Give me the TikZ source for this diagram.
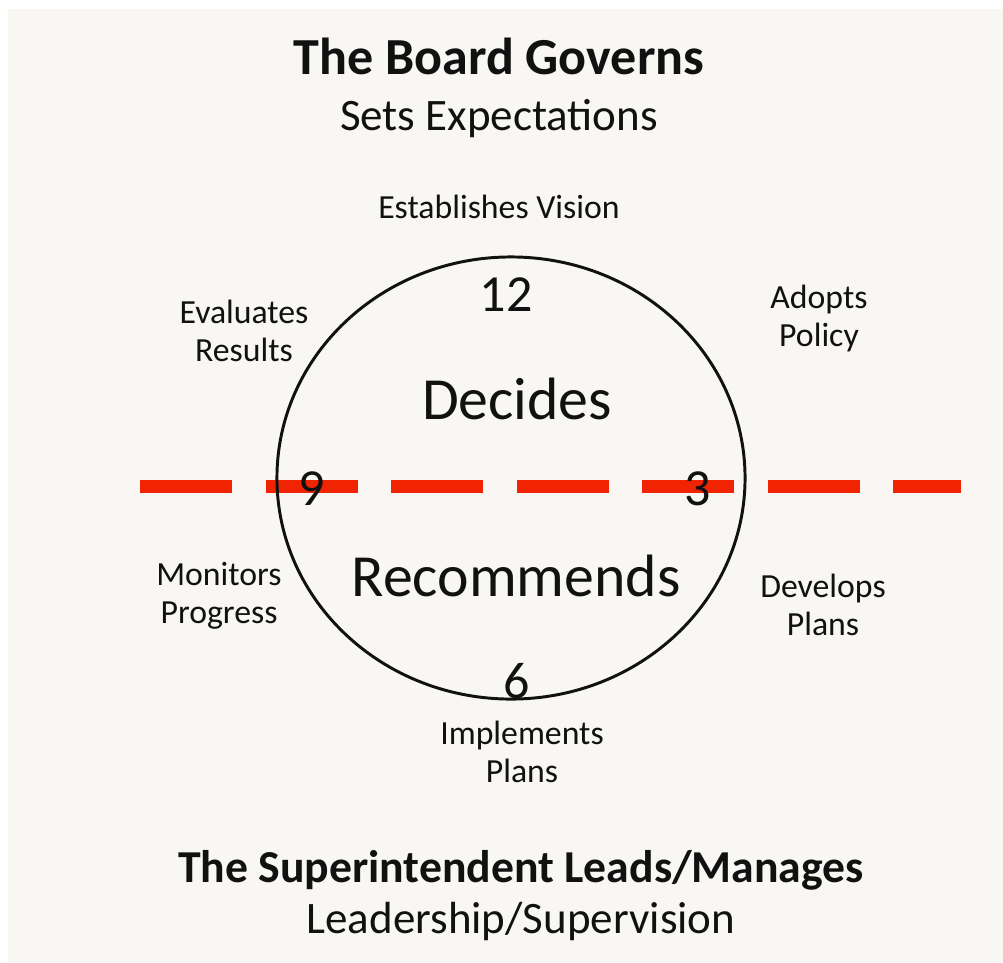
\documentclass[tikz,border=0pt]{standalone}
\usepackage{fontspec}
\setmainfont{Carlito}
\usepackage{tikz}
\usepackage{xcolor}
\usetikzlibrary{positioning,shapes.geometric}
\definecolor{Paper}{HTML}{F8F7F4}
\definecolor{CutRed}{HTML}{F02400}
\definecolor{Ink}{HTML}{111111}

\begin{document}
\begin{tikzpicture}[
  x=0.025cm,y=-0.025cm,
  heading/.style={anchor=base,inner sep=0pt,text=Ink,font=\fontsize{37}{44}\selectfont\bfseries},
  subhead/.style={anchor=base,inner sep=0pt,text=Ink,font=\fontsize{32}{38}\selectfont},
  core/.style={anchor=base,inner sep=0pt,text=Ink,font=\fontsize{42.5}{50}\selectfont},
  hour/.style={anchor=base,inner sep=0pt,text=Ink,font=\fontsize{37}{44}\selectfont},
  duty/.style={anchor=base,inner sep=0pt,text=Ink,align=center,font=\fontsize{24}{27}\selectfont},
  ring/.style={ellipse,draw=Ink,line width=2.1pt,minimum width=11.7cm,minimum height=11.05cm,inner sep=0pt},
  cut/.style={draw=CutRed,line width=8.8pt,dash pattern=on 65.5pt off 23.8pt}
]
% paper
\fill[white] (0,0) rectangle (1003,962);
\fill[Paper] (8,9) rectangle (1003,962);

% board / superintendent split
\coordinate (cutl) at (140,486.5);
\coordinate (cutr) at (961,486.5);
\draw[cut] (cutl) -- (cutr);

\node[ring] (clock) at (511,478) {};

% headings
\node[heading] (board) at (499,74) {The Board Governs};
\node[subhead] (expect) at (499,130) {Sets Expectations};
\node[heading,font=\fontsize{32.5}{40}\selectfont\bfseries] (supt) at (521,882) {The Superintendent Leads/Manages};
\node[subhead] (lead) at (521,933) {Leadership/Supervision};

% inside the clock
\node[core] (decides) at (517,419) {Decides};
\node[core] (recommends) at (516,596) {Recommends};
\node[hour] (h12) at (506,311) {12};
\node[hour] (h3) at (698,505) {3};
\node[hour] (h6) at (517,698) {6};
\node[hour] (h9) at (312,505) {9};

% duties round the clock (base = last line)
\node[duty] (vision) at (499,218) {Establishes Vision};
\node[duty] (policy) at (819,346) {Adopts\\Policy};
\node[duty] (develop) at (823,635) {Develops\\Plans};
\node[duty] (implement) at (522,782) {Implements\\Plans};
\node[duty] (monitor) at (219,623) {Monitors\\Progress};
\node[duty] (evaluate) at (244,361) {Evaluates\\Results};
\end{tikzpicture}
\end{document}
